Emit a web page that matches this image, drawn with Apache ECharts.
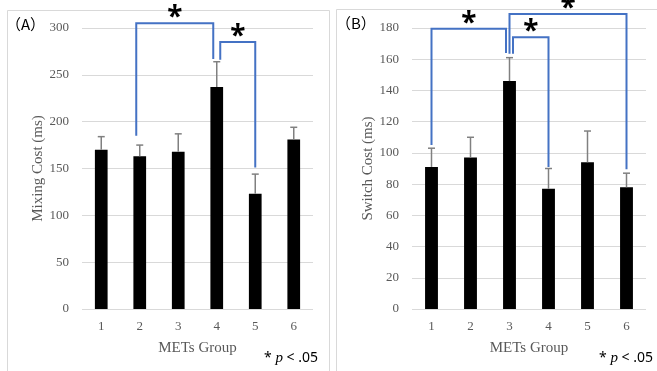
<!DOCTYPE html>
<html>
<head>
<meta charset="utf-8">
<script src="https://cdn.jsdelivr.net/npm/echarts@6/dist/echarts.min.js"></script>
<style>
  html, body { margin: 0; padding: 0; background: #fff; }
  #chart { width: 657px; height: 371px; }
</style>
</head>
<body>
<div id="chart"></div>
<script>
// MET groups on the x axis of both panels
const categories = ['1', '2', '3', '4', '5', '6'];

// Panel A: mixing cost (ms), bar mean and top of the error bar
const mixingMean  = [170, 163, 168, 237, 123, 181];
const mixingUpper = [184, 175, 187, 264, 144, 194];

// Panel B: switch cost (ms), bar mean and top of the error bar
const switchMean  = [91, 97, 146, 77, 94, 78];
const switchUpper = [103, 110, 161, 90, 114, 87];

// Value axis ranges
const mixingAxis = { max: 300, interval: 50 };
const switchAxis = { max: 180, interval: 20 };

// Significance brackets: [left group, right group, left foot, right foot, bracket top,
//                         left side, right side]  (side: -1 / 0 / +1 when sharing a group)
const mixingBrackets = [
  [1, 3, 185, 267, 305, -1, -1],
  [3, 4, 266, 151, 285, 1, 0]
];
const switchBrackets = [
  [0, 2, 105, 164, 179.5, 0, -1],
  [2, 3, 163.5, 91, 174, 1, 0],
  [2, 5, 163.5, 89.5, 189, 0, 0]
];

const TEXT_GREY = '#595959';
const SERIF = '"Liberation Serif", "Times New Roman", serif';
const SANS = '"Noto Sans", "Liberation Sans", sans-serif';
const BLUE = '#4472C4';

function errorBarItem(params, api) {
  const base = api.coord([api.value(0), api.value(1)]);
  const top = api.coord([api.value(0), api.value(2)]);
  const half = 3.5;
  const style = { stroke: '#808080', lineWidth: 1.5 };
  return {
    type: 'group',
    children: [
      { type: 'line', shape: { x1: base[0], y1: base[1], x2: top[0], y2: top[1] }, style },
      { type: 'line', shape: { x1: top[0] - half, y1: top[1], x2: top[0] + half, y2: top[1] }, style }
    ]
  };
}

function bracketItem(params, api) {
  const shift = 3.5;
  const lx = api.coord([api.value(0), 0])[0] + api.value(5) * shift;
  const rx = api.coord([api.value(1), 0])[0] + api.value(6) * shift;
  const ly = api.coord([api.value(0), api.value(2)])[1];
  const ry = api.coord([api.value(1), api.value(3)])[1];
  const ty = api.coord([api.value(0), api.value(4)])[1];
  return {
    type: 'group',
    children: [
      {
        type: 'polyline',
        shape: { points: [[lx, ly], [lx, ty], [rx, ty], [rx, ry]] },
        style: { stroke: BLUE, lineWidth: 2, fill: null }
      },
      {
        type: 'text',
        style: {
          text: '*', x: (lx + rx) / 2, y: ty + 9,
          font: 'bold 28px ' + SANS, fill: '#000',
          align: 'center', verticalAlign: 'bottom'
        }
      }
    ]
  };
}

function valueAxis(gridIndex, range, name) {
  return {
    type: 'value', gridIndex, min: 0, max: range.max, interval: range.interval,
    name, nameLocation: 'middle', nameGap: 35, nameRotate: 90,
    nameTextStyle: { fontFamily: SERIF, fontSize: 15, color: TEXT_GREY },
    axisLine: { show: false }, axisTick: { show: false },
    axisLabel: { fontFamily: SERIF, fontSize: 13, color: TEXT_GREY, margin: 13 },
    splitLine: { lineStyle: { color: '#d9d9d9', width: 1 } }
  };
}

function categoryAxis(gridIndex) {
  return {
    type: 'category', gridIndex, data: categories,
    name: 'METs Group', nameLocation: 'middle', nameGap: 32,
    nameTextStyle: { fontFamily: SERIF, fontSize: 15, color: TEXT_GREY },
    axisLine: { show: false }, axisTick: { show: false },
    axisLabel: { fontFamily: SERIF, fontSize: 13, color: TEXT_GREY, margin: 11 }
  };
}

function pNote(right) {
  return {
    type: 'text', right, top: 351, z: 10,
    style: {
      text: '{a|* }{p|p}{a| < .05}',
      rich: {
        a: { font: '14px ' + SANS, fill: '#000' },
        p: { font: 'italic 15px ' + SERIF, fill: '#000' }
      }
    }
  };
}

const chart = echarts.init(document.getElementById('chart'), null, { renderer: 'canvas' });

chart.setOption({
  backgroundColor: '#fff',
  animation: false,
  grid: [
    { left: 82, right: 344, top: 28, bottom: 62 },
    { left: 412, right: 11, top: 28, bottom: 62 }
  ],
  xAxis: [categoryAxis(0), categoryAxis(1)],
  yAxis: [
    valueAxis(0, mixingAxis, 'Mixing Cost (ms)'),
    valueAxis(1, switchAxis, 'Switch Cost (ms)')
  ],
  graphic: [
    { type: 'rect', shape: { x: 7.5, y: 10.5, width: 322, height: 380 },
      style: { fill: null, stroke: '#d9d9d9', lineWidth: 1 }, z: -1 },
    { type: 'rect', shape: { x: 336.5, y: 9.5, width: 340, height: 380 },
      style: { fill: null, stroke: '#d9d9d9', lineWidth: 1 }, z: -1 },
    { type: 'text', left: 6, top: 17, style: { text: '（A）', font: '15px "Noto Sans CJK JP", sans-serif', fill: '#000' } },
    { type: 'text', left: 336, top: 16, style: { text: '（B）', font: '15px "Noto Sans CJK JP", sans-serif', fill: '#000' } },
    pNote(657 - 318),
    pNote(4)
  ],
  series: [
    { type: 'bar', xAxisIndex: 0, yAxisIndex: 0, data: mixingMean, barWidth: '33%',
      itemStyle: { color: '#000' }, z: 2 },
    { type: 'custom', xAxisIndex: 0, yAxisIndex: 0, renderItem: errorBarItem, z: 3,
      data: categories.map((c, i) => [i, mixingMean[i], mixingUpper[i]]) },
    { type: 'custom', xAxisIndex: 0, yAxisIndex: 0, renderItem: bracketItem, z: 4, clip: false,
      data: mixingBrackets },
    { type: 'bar', xAxisIndex: 1, yAxisIndex: 1, data: switchMean, barWidth: '33%',
      itemStyle: { color: '#000' }, z: 2 },
    { type: 'custom', xAxisIndex: 1, yAxisIndex: 1, renderItem: errorBarItem, z: 3,
      data: categories.map((c, i) => [i, switchMean[i], switchUpper[i]]) },
    { type: 'custom', xAxisIndex: 1, yAxisIndex: 1, renderItem: bracketItem, z: 4, clip: false,
      data: switchBrackets }
  ]
});
</script>
</body>
</html>
